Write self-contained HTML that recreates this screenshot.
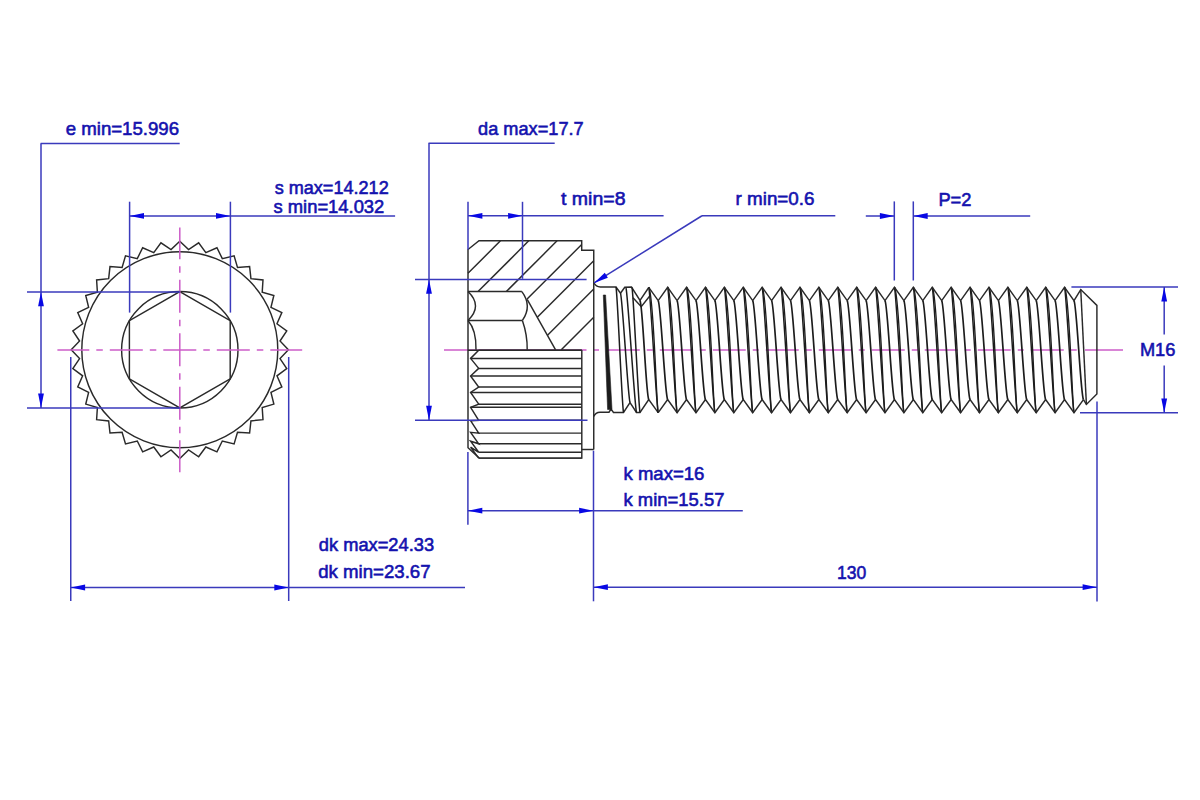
<!DOCTYPE html>
<html><head><meta charset="utf-8"><style>
html,body{margin:0;padding:0;background:#fff;}
svg{display:block;}
text{font-family:"Liberation Sans",sans-serif;}
</style></head><body>
<svg width="1200" height="800" viewBox="0 0 1200 800">
<rect width="1200" height="800" fill="#fff"/>
<circle cx="179.8" cy="349.8" r="98" fill="none" stroke="#2a2a2a" stroke-width="1.45"/>
<circle cx="179.8" cy="349.8" r="58.2" fill="none" stroke="#2a2a2a" stroke-width="1.45"/>
<polygon points="179.80,241.20 188.57,249.58 198.66,242.85 205.84,252.63 216.94,247.75 222.32,258.63 234.10,255.75 237.50,267.39 249.61,266.61 250.93,278.67 262.99,279.99 262.21,292.10 273.85,295.50 270.97,307.28 281.85,312.66 276.97,323.76 286.75,330.94 280.02,341.03 288.40,349.80 280.02,358.57 286.75,368.66 276.97,375.84 281.85,386.94 270.97,392.32 273.85,404.10 262.21,407.50 262.99,419.61 250.93,420.93 249.61,432.99 237.50,432.21 234.10,443.85 222.32,440.97 216.94,451.85 205.84,446.97 198.66,456.75 188.57,450.02 179.80,458.40 171.03,450.02 160.94,456.75 153.76,446.97 142.66,451.85 137.28,440.97 125.50,443.85 122.10,432.21 109.99,432.99 108.67,420.93 96.61,419.61 97.39,407.50 85.75,404.10 88.63,392.32 77.75,386.94 82.63,375.84 72.85,368.66 79.58,358.57 71.20,349.80 79.58,341.03 72.85,330.94 82.63,323.76 77.75,312.66 88.63,307.28 85.75,295.50 97.39,292.10 96.61,279.99 108.67,278.67 109.99,266.61 122.10,267.39 125.50,255.75 137.28,258.63 142.66,247.75 153.76,252.63 160.94,242.85 171.03,249.58" fill="none" stroke="#2a2a2a" stroke-width="1.45" stroke-linejoin="miter"/>
<polygon points="179.80,291.60 230.20,320.70 230.20,378.90 179.80,408.00 129.40,378.90 129.40,320.70" fill="none" stroke="#2a2a2a" stroke-width="1.45" stroke-linejoin="miter"/>
<line x1="163.30" y1="350.00" x2="196.30" y2="350.00" stroke="#cc5cc8" stroke-width="1.5"/>
<line x1="203.30" y1="350.00" x2="209.80" y2="350.00" stroke="#cc5cc8" stroke-width="1.5"/>
<line x1="149.80" y1="350.00" x2="156.30" y2="350.00" stroke="#cc5cc8" stroke-width="1.5"/>
<line x1="216.80" y1="350.00" x2="249.80" y2="350.00" stroke="#cc5cc8" stroke-width="1.5"/>
<line x1="109.80" y1="350.00" x2="142.80" y2="350.00" stroke="#cc5cc8" stroke-width="1.5"/>
<line x1="256.80" y1="350.00" x2="263.30" y2="350.00" stroke="#cc5cc8" stroke-width="1.5"/>
<line x1="96.30" y1="350.00" x2="102.80" y2="350.00" stroke="#cc5cc8" stroke-width="1.5"/>
<line x1="270.30" y1="350.00" x2="302.20" y2="350.00" stroke="#cc5cc8" stroke-width="1.5"/>
<line x1="57.40" y1="350.00" x2="89.30" y2="350.00" stroke="#cc5cc8" stroke-width="1.5"/>
<line x1="179.80" y1="333.30" x2="179.80" y2="366.30" stroke="#cc5cc8" stroke-width="1.5"/>
<line x1="179.80" y1="373.30" x2="179.80" y2="379.80" stroke="#cc5cc8" stroke-width="1.5"/>
<line x1="179.80" y1="319.80" x2="179.80" y2="326.30" stroke="#cc5cc8" stroke-width="1.5"/>
<line x1="179.80" y1="386.80" x2="179.80" y2="419.80" stroke="#cc5cc8" stroke-width="1.5"/>
<line x1="179.80" y1="279.80" x2="179.80" y2="312.80" stroke="#cc5cc8" stroke-width="1.5"/>
<line x1="179.80" y1="426.80" x2="179.80" y2="433.30" stroke="#cc5cc8" stroke-width="1.5"/>
<line x1="179.80" y1="266.30" x2="179.80" y2="272.80" stroke="#cc5cc8" stroke-width="1.5"/>
<line x1="179.80" y1="440.30" x2="179.80" y2="472.20" stroke="#cc5cc8" stroke-width="1.5"/>
<line x1="179.80" y1="227.40" x2="179.80" y2="259.30" stroke="#cc5cc8" stroke-width="1.5"/>
<line x1="40.60" y1="143.40" x2="179.70" y2="143.40" stroke="#3a3abc" stroke-width="1.5"/>
<line x1="41.00" y1="143.40" x2="41.00" y2="408.00" stroke="#3a3abc" stroke-width="1.5"/>
<line x1="27.00" y1="291.90" x2="180.00" y2="291.90" stroke="#3a3abc" stroke-width="1.5"/>
<line x1="27.00" y1="408.00" x2="180.00" y2="408.00" stroke="#3a3abc" stroke-width="1.5"/>
<polygon points="41.00,291.90 38.10,306.30 43.90,306.30" fill="#0808e4"/>
<polygon points="41.00,408.00 38.10,393.60 43.90,393.60" fill="#0808e4"/>
<line x1="129.60" y1="201.70" x2="129.60" y2="312.60" stroke="#3a3abc" stroke-width="1.5"/>
<line x1="230.40" y1="201.70" x2="230.40" y2="312.60" stroke="#3a3abc" stroke-width="1.5"/>
<line x1="129.60" y1="215.90" x2="395.10" y2="215.90" stroke="#3a3abc" stroke-width="1.5"/>
<polygon points="129.60,215.90 144.00,213.00 144.00,218.80" fill="#0808e4"/>
<polygon points="230.40,215.90 216.00,213.00 216.00,218.80" fill="#0808e4"/>
<line x1="70.75" y1="357.00" x2="70.75" y2="601.00" stroke="#3a3abc" stroke-width="1.5"/>
<line x1="288.70" y1="357.00" x2="288.70" y2="601.00" stroke="#3a3abc" stroke-width="1.5"/>
<line x1="70.75" y1="587.50" x2="465.00" y2="587.50" stroke="#3a3abc" stroke-width="1.5"/>
<polygon points="70.75,587.50 85.15,584.60 85.15,590.40" fill="#0808e4"/>
<polygon points="288.70,587.50 274.30,584.60 274.30,590.40" fill="#0808e4"/>
<line x1="444.00" y1="350.00" x2="586.50" y2="350.00" stroke="#cc5cc8" stroke-width="1.5"/>
<line x1="594.00" y1="350.00" x2="599.00" y2="350.00" stroke="#cc5cc8" stroke-width="1.5"/>
<line x1="606.75" y1="350.00" x2="639.75" y2="350.00" stroke="#cc5cc8" stroke-width="1.5"/>
<line x1="646.75" y1="350.00" x2="652.75" y2="350.00" stroke="#cc5cc8" stroke-width="1.5"/>
<line x1="659.75" y1="350.00" x2="692.75" y2="350.00" stroke="#cc5cc8" stroke-width="1.5"/>
<line x1="699.75" y1="350.00" x2="705.75" y2="350.00" stroke="#cc5cc8" stroke-width="1.5"/>
<line x1="712.75" y1="350.00" x2="745.75" y2="350.00" stroke="#cc5cc8" stroke-width="1.5"/>
<line x1="752.75" y1="350.00" x2="758.75" y2="350.00" stroke="#cc5cc8" stroke-width="1.5"/>
<line x1="765.75" y1="350.00" x2="798.75" y2="350.00" stroke="#cc5cc8" stroke-width="1.5"/>
<line x1="805.75" y1="350.00" x2="811.75" y2="350.00" stroke="#cc5cc8" stroke-width="1.5"/>
<line x1="818.75" y1="350.00" x2="851.75" y2="350.00" stroke="#cc5cc8" stroke-width="1.5"/>
<line x1="858.75" y1="350.00" x2="864.75" y2="350.00" stroke="#cc5cc8" stroke-width="1.5"/>
<line x1="871.75" y1="350.00" x2="904.75" y2="350.00" stroke="#cc5cc8" stroke-width="1.5"/>
<line x1="911.75" y1="350.00" x2="917.75" y2="350.00" stroke="#cc5cc8" stroke-width="1.5"/>
<line x1="924.75" y1="350.00" x2="957.75" y2="350.00" stroke="#cc5cc8" stroke-width="1.5"/>
<line x1="964.75" y1="350.00" x2="970.75" y2="350.00" stroke="#cc5cc8" stroke-width="1.5"/>
<line x1="977.75" y1="350.00" x2="1010.75" y2="350.00" stroke="#cc5cc8" stroke-width="1.5"/>
<line x1="1017.75" y1="350.00" x2="1023.75" y2="350.00" stroke="#cc5cc8" stroke-width="1.5"/>
<line x1="1030.75" y1="350.00" x2="1063.75" y2="350.00" stroke="#cc5cc8" stroke-width="1.5"/>
<line x1="1070.75" y1="350.00" x2="1076.75" y2="350.00" stroke="#cc5cc8" stroke-width="1.5"/>
<line x1="1085.00" y1="350.00" x2="1123.00" y2="350.00" stroke="#cc5cc8" stroke-width="1.5"/>
<polyline points="593.75,449.50 593.75,250.25 581.70,250.25 581.70,240.80 479.00,240.80 468.00,249.50 468.00,447.70 479.20,458.10 581.80,458.10 581.80,350.00" fill="none" stroke="#2a2a2a" stroke-width="1.45" stroke-linejoin="miter"/>
<line x1="581.80" y1="449.50" x2="593.75" y2="449.50" stroke="#2a2a2a" stroke-width="1.45"/>
<line x1="468.00" y1="350.20" x2="581.80" y2="350.20" stroke="#2a2a2a" stroke-width="1.45"/>
<line x1="468.00" y1="273.30" x2="500.45" y2="240.85" stroke="#2a2a2a" stroke-width="1.45"/>
<line x1="478.05" y1="291.55" x2="528.75" y2="240.85" stroke="#2a2a2a" stroke-width="1.45"/>
<line x1="506.35" y1="291.55" x2="557.05" y2="240.85" stroke="#2a2a2a" stroke-width="1.45"/>
<line x1="527.10" y1="299.10" x2="581.70" y2="244.50" stroke="#2a2a2a" stroke-width="1.45"/>
<line x1="537.30" y1="317.20" x2="593.75" y2="260.75" stroke="#2a2a2a" stroke-width="1.45"/>
<line x1="547.50" y1="335.30" x2="593.75" y2="289.05" stroke="#2a2a2a" stroke-width="1.45"/>
<line x1="561.30" y1="349.80" x2="593.75" y2="317.35" stroke="#2a2a2a" stroke-width="1.45"/>
<polyline points="468.00,291.56 521.90,291.56" fill="none" stroke="#2a2a2a" stroke-width="1.45" stroke-linejoin="miter"/>
<line x1="468.00" y1="320.40" x2="522.40" y2="320.40" stroke="#2a2a2a" stroke-width="1.45"/>
<path d="M468,291.56 Q483,305.9 468,320.4" fill="none" stroke="#2a2a2a" stroke-width="1.45"/>
<path d="M521.9,291.56 Q532.5,305.9 522.4,320.4" fill="none" stroke="#2a2a2a" stroke-width="1.45"/>
<path d="M468,320.4 Q476.5,330 476,349.8" fill="none" stroke="#2a2a2a" stroke-width="1.45"/>
<path d="M522.4,320.4 Q527.5,335 527.2,349.8" fill="none" stroke="#2a2a2a" stroke-width="1.45"/>
<line x1="527.20" y1="299.40" x2="555.60" y2="349.80" stroke="#2a2a2a" stroke-width="1.45"/>
<polyline points="478.70,350.20 470.60,358.40 478.70,368.40 470.60,376.00 478.70,387.00 470.60,392.50 478.70,404.20 470.60,407.30 478.70,420.30 470.60,420.70 478.70,433.10 470.60,432.40 478.70,443.80 470.60,441.20 478.70,452.30 470.60,447.20 478.70,458.10" fill="none" stroke="#2a2a2a" stroke-width="1.45" stroke-linejoin="miter"/>
<line x1="478.70" y1="350.20" x2="581.80" y2="350.20" stroke="#2a2a2a" stroke-width="1.45"/>
<line x1="470.60" y1="358.40" x2="581.80" y2="358.40" stroke="#2a2a2a" stroke-width="1.45"/>
<line x1="478.70" y1="368.40" x2="581.80" y2="368.40" stroke="#2a2a2a" stroke-width="1.45"/>
<line x1="470.60" y1="376.00" x2="581.80" y2="376.00" stroke="#2a2a2a" stroke-width="1.45"/>
<line x1="478.70" y1="387.00" x2="581.80" y2="387.00" stroke="#2a2a2a" stroke-width="1.45"/>
<line x1="470.60" y1="392.50" x2="581.80" y2="392.50" stroke="#2a2a2a" stroke-width="1.45"/>
<line x1="478.70" y1="404.20" x2="581.80" y2="404.20" stroke="#2a2a2a" stroke-width="1.45"/>
<line x1="470.60" y1="407.30" x2="581.80" y2="407.30" stroke="#2a2a2a" stroke-width="1.45"/>
<line x1="478.70" y1="420.30" x2="581.80" y2="420.30" stroke="#2a2a2a" stroke-width="1.45"/>
<line x1="478.70" y1="433.10" x2="581.80" y2="433.10" stroke="#2a2a2a" stroke-width="1.45"/>
<line x1="478.70" y1="443.80" x2="581.80" y2="443.80" stroke="#2a2a2a" stroke-width="1.45"/>
<line x1="478.70" y1="452.30" x2="581.80" y2="452.30" stroke="#2a2a2a" stroke-width="1.45"/>
<line x1="478.70" y1="458.10" x2="581.80" y2="458.10" stroke="#2a2a2a" stroke-width="1.45"/>
<path d="M593.75,282.5 Q596,287 600.3,287 L616,287 L620.5,293.25 L624.75,287.25 L631.5,287 L640,300.5 L648.75,287.5" fill="none" stroke="#2a2a2a" stroke-width="1.45"/>
<path d="M593.75,416.5 Q595.5,412.3 600,412.2 L609,412.2 L611,409 L613.5,412.5 L623.5,412.5 L630,402.5 L636.5,412.5 L640,412.5 L648.75,399.6 L658.2,412.7" fill="none" stroke="#2a2a2a" stroke-width="1.45"/>
<polyline points="633.00,297.75 641.25,306.75 649.75,296.00" fill="none" stroke="#2a2a2a" stroke-width="1.45" stroke-linejoin="miter"/>
<polygon points="603.3,295 605.6,295 612,409.5 607.6,409.5" fill="#1c1c1c" stroke="#1c1c1c" stroke-width="0.6"/>
<path d="M616.00,287.00 C617.50,292.65 622.00,406.85 623.50,412.50" fill="none" stroke="#1c1c1c" stroke-width="1.5"/>
<path d="M620.50,293.25 C622.50,298.17 628.00,397.58 630.00,402.50" fill="none" stroke="#1c1c1c" stroke-width="1.5"/>
<path d="M626.00,288.00 C627.80,293.60 634.70,406.90 636.50,412.50" fill="none" stroke="#1c1c1c" stroke-width="1.5"/>
<path d="M632.00,287.50 C633.50,293.12 638.50,406.88 640.00,412.50" fill="none" stroke="#1c1c1c" stroke-width="1.5"/>
<path d="M640.00,300.50 C642.80,304.96 645.95,395.14 648.75,399.60" fill="none" stroke="#1c1c1c" stroke-width="1.7"/>
<path d="M648.75,287.30 C650.55,292.94 656.40,407.06 658.20,412.70" fill="none" stroke="#1c1c1c" stroke-width="1.45"/>
<path d="M648.75,287.30 C653.75,292.94 656.40,407.06 658.20,412.70" fill="none" stroke="#1c1c1c" stroke-width="1.35"/>
<path d="M658.20,300.60 C661.00,305.06 664.85,395.15 667.65,399.60" fill="none" stroke="#1c1c1c" stroke-width="1.7"/>
<path d="M667.65,287.30 C669.45,292.94 675.30,407.06 677.10,412.70" fill="none" stroke="#1c1c1c" stroke-width="1.45"/>
<path d="M667.65,287.30 C672.65,292.94 675.30,407.06 677.10,412.70" fill="none" stroke="#1c1c1c" stroke-width="1.35"/>
<path d="M677.10,300.60 C679.90,305.06 683.75,395.15 686.55,399.60" fill="none" stroke="#1c1c1c" stroke-width="1.7"/>
<path d="M686.55,287.30 C688.35,292.94 694.20,407.06 696.00,412.70" fill="none" stroke="#1c1c1c" stroke-width="1.45"/>
<path d="M686.55,287.30 C691.55,292.94 694.20,407.06 696.00,412.70" fill="none" stroke="#1c1c1c" stroke-width="1.35"/>
<path d="M696.00,300.60 C698.80,305.06 702.65,395.15 705.45,399.60" fill="none" stroke="#1c1c1c" stroke-width="1.7"/>
<path d="M705.45,287.30 C707.25,292.94 713.10,407.06 714.90,412.70" fill="none" stroke="#1c1c1c" stroke-width="1.45"/>
<path d="M705.45,287.30 C710.45,292.94 713.10,407.06 714.90,412.70" fill="none" stroke="#1c1c1c" stroke-width="1.35"/>
<path d="M714.90,300.60 C717.70,305.06 721.55,395.15 724.35,399.60" fill="none" stroke="#1c1c1c" stroke-width="1.7"/>
<path d="M724.35,287.30 C726.15,292.94 732.00,407.06 733.80,412.70" fill="none" stroke="#1c1c1c" stroke-width="1.45"/>
<path d="M724.35,287.30 C729.35,292.94 732.00,407.06 733.80,412.70" fill="none" stroke="#1c1c1c" stroke-width="1.35"/>
<path d="M733.80,300.60 C736.60,305.06 740.45,395.15 743.25,399.60" fill="none" stroke="#1c1c1c" stroke-width="1.7"/>
<path d="M743.25,287.30 C745.05,292.94 750.90,407.06 752.70,412.70" fill="none" stroke="#1c1c1c" stroke-width="1.45"/>
<path d="M743.25,287.30 C748.25,292.94 750.90,407.06 752.70,412.70" fill="none" stroke="#1c1c1c" stroke-width="1.35"/>
<path d="M752.70,300.60 C755.50,305.06 759.35,395.15 762.15,399.60" fill="none" stroke="#1c1c1c" stroke-width="1.7"/>
<path d="M762.15,287.30 C763.95,292.94 769.80,407.06 771.60,412.70" fill="none" stroke="#1c1c1c" stroke-width="1.45"/>
<path d="M762.15,287.30 C767.15,292.94 769.80,407.06 771.60,412.70" fill="none" stroke="#1c1c1c" stroke-width="1.35"/>
<path d="M771.60,300.60 C774.40,305.06 778.25,395.15 781.05,399.60" fill="none" stroke="#1c1c1c" stroke-width="1.7"/>
<path d="M781.05,287.30 C782.85,292.94 788.70,407.06 790.50,412.70" fill="none" stroke="#1c1c1c" stroke-width="1.45"/>
<path d="M781.05,287.30 C786.05,292.94 788.70,407.06 790.50,412.70" fill="none" stroke="#1c1c1c" stroke-width="1.35"/>
<path d="M790.50,300.60 C793.30,305.06 797.15,395.15 799.95,399.60" fill="none" stroke="#1c1c1c" stroke-width="1.7"/>
<path d="M799.95,287.30 C801.75,292.94 807.60,407.06 809.40,412.70" fill="none" stroke="#1c1c1c" stroke-width="1.45"/>
<path d="M799.95,287.30 C804.95,292.94 807.60,407.06 809.40,412.70" fill="none" stroke="#1c1c1c" stroke-width="1.35"/>
<path d="M809.40,300.60 C812.20,305.06 816.05,395.15 818.85,399.60" fill="none" stroke="#1c1c1c" stroke-width="1.7"/>
<path d="M818.85,287.30 C820.65,292.94 826.50,407.06 828.30,412.70" fill="none" stroke="#1c1c1c" stroke-width="1.45"/>
<path d="M818.85,287.30 C823.85,292.94 826.50,407.06 828.30,412.70" fill="none" stroke="#1c1c1c" stroke-width="1.35"/>
<path d="M828.30,300.60 C831.10,305.06 834.95,395.15 837.75,399.60" fill="none" stroke="#1c1c1c" stroke-width="1.7"/>
<path d="M837.75,287.30 C839.55,292.94 845.40,407.06 847.20,412.70" fill="none" stroke="#1c1c1c" stroke-width="1.45"/>
<path d="M837.75,287.30 C842.75,292.94 845.40,407.06 847.20,412.70" fill="none" stroke="#1c1c1c" stroke-width="1.35"/>
<path d="M847.20,300.60 C850.00,305.06 853.85,395.15 856.65,399.60" fill="none" stroke="#1c1c1c" stroke-width="1.7"/>
<path d="M856.65,287.30 C858.45,292.94 864.30,407.06 866.10,412.70" fill="none" stroke="#1c1c1c" stroke-width="1.45"/>
<path d="M856.65,287.30 C861.65,292.94 864.30,407.06 866.10,412.70" fill="none" stroke="#1c1c1c" stroke-width="1.35"/>
<path d="M866.10,300.60 C868.90,305.06 872.75,395.15 875.55,399.60" fill="none" stroke="#1c1c1c" stroke-width="1.7"/>
<path d="M875.55,287.30 C877.35,292.94 883.20,407.06 885.00,412.70" fill="none" stroke="#1c1c1c" stroke-width="1.45"/>
<path d="M875.55,287.30 C880.55,292.94 883.20,407.06 885.00,412.70" fill="none" stroke="#1c1c1c" stroke-width="1.35"/>
<path d="M885.00,300.60 C887.80,305.06 891.65,395.15 894.45,399.60" fill="none" stroke="#1c1c1c" stroke-width="1.7"/>
<path d="M894.45,287.30 C896.25,292.94 902.10,407.06 903.90,412.70" fill="none" stroke="#1c1c1c" stroke-width="1.45"/>
<path d="M894.45,287.30 C899.45,292.94 902.10,407.06 903.90,412.70" fill="none" stroke="#1c1c1c" stroke-width="1.35"/>
<path d="M903.90,300.60 C906.70,305.06 910.55,395.15 913.35,399.60" fill="none" stroke="#1c1c1c" stroke-width="1.7"/>
<path d="M913.35,287.30 C915.15,292.94 921.00,407.06 922.80,412.70" fill="none" stroke="#1c1c1c" stroke-width="1.45"/>
<path d="M913.35,287.30 C918.35,292.94 921.00,407.06 922.80,412.70" fill="none" stroke="#1c1c1c" stroke-width="1.35"/>
<path d="M922.80,300.60 C925.60,305.06 929.45,395.15 932.25,399.60" fill="none" stroke="#1c1c1c" stroke-width="1.7"/>
<path d="M932.25,287.30 C934.05,292.94 939.90,407.06 941.70,412.70" fill="none" stroke="#1c1c1c" stroke-width="1.45"/>
<path d="M932.25,287.30 C937.25,292.94 939.90,407.06 941.70,412.70" fill="none" stroke="#1c1c1c" stroke-width="1.35"/>
<path d="M941.70,300.60 C944.50,305.06 948.35,395.15 951.15,399.60" fill="none" stroke="#1c1c1c" stroke-width="1.7"/>
<path d="M951.15,287.30 C952.95,292.94 958.80,407.06 960.60,412.70" fill="none" stroke="#1c1c1c" stroke-width="1.45"/>
<path d="M951.15,287.30 C956.15,292.94 958.80,407.06 960.60,412.70" fill="none" stroke="#1c1c1c" stroke-width="1.35"/>
<path d="M960.60,300.60 C963.40,305.06 967.25,395.15 970.05,399.60" fill="none" stroke="#1c1c1c" stroke-width="1.7"/>
<path d="M970.05,287.30 C971.85,292.94 977.70,407.06 979.50,412.70" fill="none" stroke="#1c1c1c" stroke-width="1.45"/>
<path d="M970.05,287.30 C975.05,292.94 977.70,407.06 979.50,412.70" fill="none" stroke="#1c1c1c" stroke-width="1.35"/>
<path d="M979.50,300.60 C982.30,305.06 986.15,395.15 988.95,399.60" fill="none" stroke="#1c1c1c" stroke-width="1.7"/>
<path d="M988.95,287.30 C990.75,292.94 996.60,407.06 998.40,412.70" fill="none" stroke="#1c1c1c" stroke-width="1.45"/>
<path d="M988.95,287.30 C993.95,292.94 996.60,407.06 998.40,412.70" fill="none" stroke="#1c1c1c" stroke-width="1.35"/>
<path d="M998.40,300.60 C1001.20,305.06 1005.05,395.15 1007.85,399.60" fill="none" stroke="#1c1c1c" stroke-width="1.7"/>
<path d="M1007.85,287.30 C1009.65,292.94 1015.50,407.06 1017.30,412.70" fill="none" stroke="#1c1c1c" stroke-width="1.45"/>
<path d="M1007.85,287.30 C1012.85,292.94 1015.50,407.06 1017.30,412.70" fill="none" stroke="#1c1c1c" stroke-width="1.35"/>
<path d="M1017.30,300.60 C1020.10,305.06 1023.95,395.15 1026.75,399.60" fill="none" stroke="#1c1c1c" stroke-width="1.7"/>
<path d="M1026.75,287.30 C1028.55,292.94 1034.40,407.06 1036.20,412.70" fill="none" stroke="#1c1c1c" stroke-width="1.45"/>
<path d="M1026.75,287.30 C1031.75,292.94 1034.40,407.06 1036.20,412.70" fill="none" stroke="#1c1c1c" stroke-width="1.35"/>
<path d="M1036.20,300.60 C1039.00,305.06 1042.85,395.15 1045.65,399.60" fill="none" stroke="#1c1c1c" stroke-width="1.7"/>
<path d="M1045.65,287.30 C1047.45,292.94 1053.30,407.06 1055.10,412.70" fill="none" stroke="#1c1c1c" stroke-width="1.45"/>
<path d="M1045.65,287.30 C1050.65,292.94 1053.30,407.06 1055.10,412.70" fill="none" stroke="#1c1c1c" stroke-width="1.35"/>
<path d="M1055.10,300.60 C1057.90,305.06 1061.75,395.15 1064.55,399.60" fill="none" stroke="#1c1c1c" stroke-width="1.7"/>
<path d="M1064.55,287.30 C1066.35,292.94 1072.20,407.06 1074.00,412.70" fill="none" stroke="#1c1c1c" stroke-width="1.45"/>
<path d="M1064.55,287.30 C1069.55,292.94 1072.20,407.06 1074.00,412.70" fill="none" stroke="#1c1c1c" stroke-width="1.35"/>
<path d="M1074.00,300.60 C1076.80,305.06 1080.65,395.15 1083.45,399.60" fill="none" stroke="#1c1c1c" stroke-width="1.7"/>
<polyline points="648.75,287.30 658.20,300.60 667.65,287.30 677.10,300.60 686.55,287.30 696.00,300.60 705.45,287.30 714.90,300.60 724.35,287.30 733.80,300.60 743.25,287.30 752.70,300.60 762.15,287.30 771.60,300.60 781.05,287.30 790.50,300.60 799.95,287.30 809.40,300.60 818.85,287.30 828.30,300.60 837.75,287.30 847.20,300.60 856.65,287.30 866.10,300.60 875.55,287.30 885.00,300.60 894.45,287.30 903.90,300.60 913.35,287.30 922.80,300.60 932.25,287.30 941.70,300.60 951.15,287.30 960.60,300.60 970.05,287.30 979.50,300.60 988.95,287.30 998.40,300.60 1007.85,287.30 1017.30,300.60 1026.75,287.30 1036.20,300.60 1045.65,287.30 1055.10,300.60 1064.55,287.30 1074.00,300.60 1080.75,289.60 1096.90,305.40 1096.90,393.90 1086.40,404.40 1083.45,399.60" fill="none" stroke="#2a2a2a" stroke-width="1.45" stroke-linejoin="miter"/>
<polyline points="658.20,412.70 667.65,399.60 677.10,412.70 686.55,399.60 696.00,412.70 705.45,399.60 714.90,412.70 724.35,399.60 733.80,412.70 743.25,399.60 752.70,412.70 762.15,399.60 771.60,412.70 781.05,399.60 790.50,412.70 799.95,399.60 809.40,412.70 818.85,399.60 828.30,412.70 837.75,399.60 847.20,412.70 856.65,399.60 866.10,412.70 875.55,399.60 885.00,412.70 894.45,399.60 903.90,412.70 913.35,399.60 922.80,412.70 932.25,399.60 941.70,412.70 951.15,399.60 960.60,412.70 970.05,399.60 979.50,412.70 988.95,399.60 998.40,412.70 1007.85,399.60 1017.30,412.70 1026.75,399.60 1036.20,412.70 1045.65,399.60 1055.10,412.70 1064.55,399.60 1074.00,412.70 1083.45,399.60" fill="none" stroke="#2a2a2a" stroke-width="1.45" stroke-linejoin="miter"/>
<line x1="1080.75" y1="289.60" x2="1086.40" y2="404.40" stroke="#2a2a2a" stroke-width="1.45"/>
<line x1="428.50" y1="143.30" x2="554.70" y2="143.30" stroke="#3a3abc" stroke-width="1.5"/>
<line x1="429.00" y1="143.30" x2="429.00" y2="420.20" stroke="#3a3abc" stroke-width="1.5"/>
<line x1="415.00" y1="279.40" x2="586.60" y2="279.40" stroke="#3a3abc" stroke-width="1.5"/>
<line x1="415.00" y1="420.20" x2="587.50" y2="420.20" stroke="#3a3abc" stroke-width="1.5"/>
<polygon points="429.00,279.40 426.10,293.80 431.90,293.80" fill="#0808e4"/>
<polygon points="429.00,420.20 426.10,405.80 431.90,405.80" fill="#0808e4"/>
<line x1="468.00" y1="201.80" x2="468.00" y2="249.50" stroke="#3a3abc" stroke-width="1.5"/>
<line x1="522.50" y1="201.80" x2="522.50" y2="278.80" stroke="#3a3abc" stroke-width="1.5"/>
<line x1="468.00" y1="215.80" x2="663.60" y2="215.80" stroke="#3a3abc" stroke-width="1.5"/>
<polygon points="468.00,215.80 482.40,212.90 482.40,218.70" fill="#0808e4"/>
<polygon points="522.50,215.80 508.10,212.90 508.10,218.70" fill="#0808e4"/>
<line x1="702.00" y1="215.75" x2="835.30" y2="215.75" stroke="#3a3abc" stroke-width="1.5"/>
<line x1="702.00" y1="215.75" x2="594.10" y2="282.90" stroke="#3a3abc" stroke-width="1.5"/>
<polygon points="594.10,282.90 607.86,277.75 604.79,272.83" fill="#0808e4"/>
<line x1="894.30" y1="201.40" x2="894.30" y2="280.50" stroke="#3a3abc" stroke-width="1.5"/>
<line x1="913.30" y1="201.40" x2="913.30" y2="280.50" stroke="#3a3abc" stroke-width="1.5"/>
<line x1="865.80" y1="216.00" x2="894.30" y2="216.00" stroke="#3a3abc" stroke-width="1.5"/>
<line x1="913.30" y1="216.00" x2="1030.20" y2="216.00" stroke="#3a3abc" stroke-width="1.5"/>
<polygon points="894.30,216.00 879.90,213.10 879.90,218.90" fill="#0808e4"/>
<polygon points="913.30,216.00 927.70,213.10 927.70,218.90" fill="#0808e4"/>
<line x1="1071.40" y1="287.00" x2="1178.00" y2="287.00" stroke="#3a3abc" stroke-width="1.5"/>
<line x1="1080.00" y1="412.80" x2="1178.00" y2="412.80" stroke="#3a3abc" stroke-width="1.5"/>
<line x1="1164.20" y1="287.00" x2="1164.20" y2="334.50" stroke="#3a3abc" stroke-width="1.5"/>
<line x1="1164.20" y1="365.50" x2="1164.20" y2="412.80" stroke="#3a3abc" stroke-width="1.5"/>
<polygon points="1164.20,287.00 1161.30,301.40 1167.10,301.40" fill="#0808e4"/>
<polygon points="1164.20,412.80 1161.30,398.40 1167.10,398.40" fill="#0808e4"/>
<line x1="467.90" y1="452.00" x2="467.90" y2="524.80" stroke="#3a3abc" stroke-width="1.5"/>
<line x1="593.50" y1="450.70" x2="593.50" y2="601.30" stroke="#3a3abc" stroke-width="1.5"/>
<line x1="467.90" y1="510.70" x2="742.80" y2="510.70" stroke="#3a3abc" stroke-width="1.5"/>
<polygon points="467.90,510.70 482.30,507.80 482.30,513.60" fill="#0808e4"/>
<polygon points="593.50,510.70 579.10,507.80 579.10,513.60" fill="#0808e4"/>
<line x1="593.50" y1="587.20" x2="1097.00" y2="587.20" stroke="#3a3abc" stroke-width="1.5"/>
<line x1="1097.00" y1="401.40" x2="1097.00" y2="601.50" stroke="#3a3abc" stroke-width="1.5"/>
<polygon points="593.50,587.20 607.90,584.30 607.90,590.10" fill="#0808e4"/>
<polygon points="1097.00,587.20 1082.60,584.30 1082.60,590.10" fill="#0808e4"/>
<text x="65.70" y="135.05" textLength="113.40" lengthAdjust="spacingAndGlyphs" font-size="19.0" fill="#1412ae" stroke="#1412ae" stroke-width="0.6">e min=15.996</text>
<text x="478.10" y="134.70" textLength="105.60" lengthAdjust="spacingAndGlyphs" font-size="19.0" fill="#1412ae" stroke="#1412ae" stroke-width="0.6">da max=17.7</text>
<text x="274.65" y="193.60" textLength="114.05" lengthAdjust="spacingAndGlyphs" font-size="19.0" fill="#1412ae" stroke="#1412ae" stroke-width="0.6">s max=14.212</text>
<text x="273.50" y="212.90" textLength="110.80" lengthAdjust="spacingAndGlyphs" font-size="19.0" fill="#1412ae" stroke="#1412ae" stroke-width="0.6">s min=14.032</text>
<text x="561.00" y="205.30" textLength="64.50" lengthAdjust="spacingAndGlyphs" font-size="19.0" fill="#1412ae" stroke="#1412ae" stroke-width="0.6">t min=8</text>
<text x="735.60" y="205.30" textLength="78.90" lengthAdjust="spacingAndGlyphs" font-size="19.0" fill="#1412ae" stroke="#1412ae" stroke-width="0.6">r min=0.6</text>
<text x="938.40" y="205.60" textLength="33.00" lengthAdjust="spacingAndGlyphs" font-size="19.0" fill="#1412ae" stroke="#1412ae" stroke-width="0.6">P=2</text>
<text x="1139.90" y="356.05" textLength="35.50" lengthAdjust="spacingAndGlyphs" font-size="19.0" fill="#1412ae" stroke="#1412ae" stroke-width="0.6">M16</text>
<text x="623.50" y="479.70" textLength="80.90" lengthAdjust="spacingAndGlyphs" font-size="19.0" fill="#1412ae" stroke="#1412ae" stroke-width="0.6">k max=16</text>
<text x="623.50" y="505.70" textLength="100.90" lengthAdjust="spacingAndGlyphs" font-size="19.0" fill="#1412ae" stroke="#1412ae" stroke-width="0.6">k min=15.57</text>
<text x="318.80" y="550.70" textLength="115.30" lengthAdjust="spacingAndGlyphs" font-size="19.0" fill="#1412ae" stroke="#1412ae" stroke-width="0.6">dk max=24.33</text>
<text x="318.20" y="578.10" textLength="112.40" lengthAdjust="spacingAndGlyphs" font-size="19.0" fill="#1412ae" stroke="#1412ae" stroke-width="0.6">dk min=23.67</text>
<text x="836.90" y="579.05" textLength="29.25" lengthAdjust="spacingAndGlyphs" font-size="19.0" fill="#1412ae" stroke="#1412ae" stroke-width="0.6">130</text>
</svg>
</body></html>
